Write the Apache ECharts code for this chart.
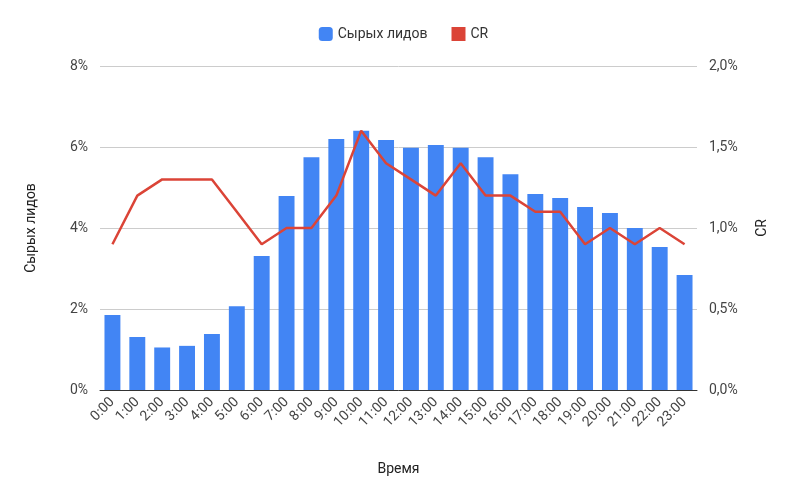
<!DOCTYPE html>
<html><head><meta charset="utf-8">
<script src="https://cdn.jsdelivr.net/npm/echarts@6/dist/echarts.min.js"></script>
<style>html,body{margin:0;padding:0;background:#fff}#c{width:807px;height:499px}</style>
</head><body><div id="c"></div>
<script>
const categories = ["0:00","1:00","2:00","3:00","4:00","5:00","6:00","7:00","8:00","9:00","10:00","11:00","12:00","13:00","14:00","15:00","16:00","17:00","18:00","19:00","20:00","21:00","22:00","23:00"];
const leads = [1.85,1.31,1.05,1.09,1.38,2.07,3.31,4.79,5.75,6.2,6.4,6.17,5.98,6.05,5.98,5.75,5.33,4.84,4.74,4.52,4.37,4.0,3.53,2.84];
const cr = [0.9,1.2,1.3,1.3,1.3,1.1,0.9,1.0,1.0,1.2,1.6,1.4,1.3,1.2,1.4,1.2,1.2,1.1,1.1,0.9,1.0,0.9,1.0,0.9];
const ch = echarts.init(document.getElementById('c'));
const font = 'Roboto';
const lab = {color:'#444',fontFamily:font,fontSize:14};
ch.setOption({
  textStyle:{fontFamily:font},
  legend:{top:22,left:'center',itemWidth:14,itemHeight:14,itemGap:24,textStyle:{color:'#333',fontSize:14,fontFamily:font},
    data:[{name:'Сырых лидов',icon:'roundRect'},{name:'CR',icon:'rect',itemStyle:{color:'#db4437'}}]},
  grid:{left:100,right:110,top:66,bottom:109},
  xAxis:{type:'category',data:categories,axisTick:{show:false},axisLine:{lineStyle:{color:'#333'}},
    axisLabel:Object.assign({rotate:45,interval:0,margin:10},lab),
    name:'Время',nameLocation:'middle',nameGap:72,nameTextStyle:{color:'#222',fontSize:14,fontFamily:font}},
  yAxis:[
    {type:'value',min:0,max:8,interval:2,axisLabel:Object.assign({formatter:v=>v+'%',margin:12},lab),
     splitLine:{lineStyle:{color:'#ccc'}},name:'Сырых лидов',nameLocation:'middle',nameGap:62,nameRotate:90,
     nameTextStyle:{color:'#222',fontSize:14,fontFamily:font}},
    {type:'value',min:0,max:2,interval:0.5,axisLabel:Object.assign({formatter:v=>v.toFixed(1).replace('.',',')+'%',margin:12},lab),
     splitLine:{show:false},name:'CR',nameLocation:'middle',nameGap:58,nameRotate:90,
     nameTextStyle:{color:'#222',fontSize:14,fontFamily:font}}
  ],
  series:[
    {name:'Сырых лидов',type:'bar',data:leads,barWidth:'64%',itemStyle:{color:'#4285f4'}},
    {name:'CR',type:'line',yAxisIndex:1,data:cr,symbol:'none',lineStyle:{color:'#db4437',width:2.5},itemStyle:{color:'#db4437'}}
  ]
});
</script></body></html>
